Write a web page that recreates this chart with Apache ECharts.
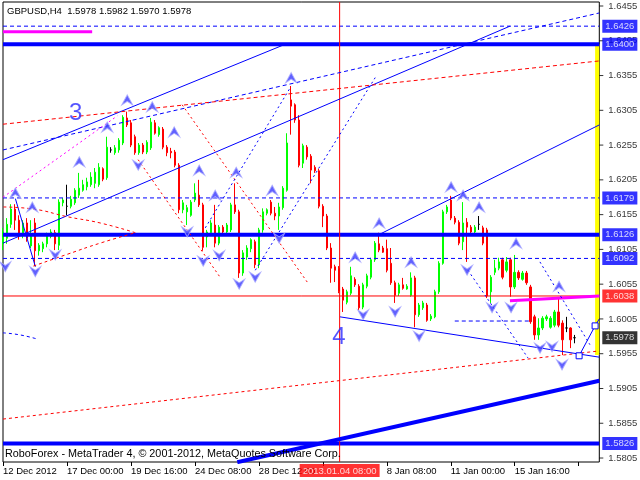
<!DOCTYPE html>
<html><head><meta charset="utf-8">
<script src="https://cdn.jsdelivr.net/npm/echarts@6/dist/echarts.min.js"></script>
<style>html,body{margin:0;padding:0;background:#fff}#c{width:640px;height:480px}</style>
</head><body><div id="c"></div>
<script>
// ---------- data ----------
const symbolText = 'GBPUSD,H4';
const lastOHLC = ['1.5978', '1.5982', '1.5970', '1.5978'];
const copyright = 'RoboForex - MetaTrader 4, \u00a9 2001-2012, MetaQuotes Software Corp.';
// candles: [open, close, low, high]
const candles = [
[1.6113,1.6130,1.6104,1.6136],[1.6121,1.6141,1.6113,1.6150],[1.6141,1.6163,1.6136,1.6170],[1.6163,1.6147,1.6133,1.6170],
[1.6147,1.6126,1.6119,1.6154],[1.6126,1.6143,1.6121,1.6147],[1.6143,1.6121,1.6116,1.6150],[1.6110,1.6126,1.6107,1.6147],
[1.6143,1.6103,1.6081,1.6150],[1.6103,1.6111,1.6096,1.6114],[1.6106,1.6113,1.6101,1.6116],[1.6113,1.6126,1.6108,1.6129],
[1.6124,1.6130,1.6121,1.6134],[1.6129,1.6113,1.6104,1.6133],[1.6111,1.6173,1.6104,1.6177],[1.6172,1.6176,1.6167,1.6179],
[1.6167,1.6167,1.6154,1.6198],[1.6167,1.6177,1.6164,1.6182],[1.6172,1.6190,1.6169,1.6193],[1.6183,1.6193,1.6179,1.6215],
[1.6190,1.6198,1.6188,1.6205],[1.6195,1.6202,1.6190,1.6208],[1.6198,1.6209,1.6195,1.6216],[1.6200,1.6216,1.6193,1.6222],
[1.6198,1.6223,1.6195,1.6229],[1.6221,1.6206,1.6203,1.6223],[1.6208,1.6252,1.6205,1.6267],[1.6248,1.6248,1.6244,1.6252],
[1.6244,1.6251,1.6241,1.6255],[1.6248,1.6262,1.6244,1.6265],[1.6258,1.6295,1.6255,1.6298],[1.6294,1.6284,1.6281,1.6303],
[1.6287,1.6255,1.6252,1.6291],[1.6267,1.6244,1.6241,1.6270],[1.6244,1.6255,1.6241,1.6258],[1.6255,1.6245,1.6242,1.6258],
[1.6245,1.6259,1.6242,1.6262],[1.6251,1.6288,1.6248,1.6294],[1.6287,1.6272,1.6270,1.6291],[1.6270,1.6280,1.6267,1.6282],
[1.6278,1.6252,1.6249,1.6281],[1.6252,1.6244,1.6239,1.6255],[1.6246,1.6244,1.6236,1.6251],[1.6245,1.6226,1.6223,1.6248],
[1.6226,1.6162,1.6157,1.6229],[1.6162,1.6172,1.6157,1.6176],[1.6159,1.6165,1.6140,1.6169],[1.6154,1.6173,1.6152,1.6176],
[1.6176,1.6186,1.6173,1.6200],[1.6183,1.6169,1.6166,1.6205],[1.6169,1.6108,1.6103,1.6172],[1.6123,1.6130,1.6108,1.6133],
[1.6129,1.6143,1.6126,1.6147],[1.6140,1.6114,1.6108,1.6169],[1.6114,1.6137,1.6111,1.6140],[1.6137,1.6130,1.6127,1.6140],
[1.6130,1.6140,1.6127,1.6143],[1.6133,1.6169,1.6130,1.6172],[1.6169,1.6159,1.6156,1.6200],[1.6159,1.6071,1.6064,1.6162],
[1.6071,1.6100,1.6067,1.6104],[1.6094,1.6107,1.6090,1.6111],[1.6106,1.6119,1.6101,1.6121],[1.6116,1.6083,1.6078,1.6119],
[1.6083,1.6133,1.6078,1.6136],[1.6133,1.6159,1.6129,1.6164],[1.6157,1.6162,1.6154,1.6164],[1.6173,1.6157,1.6154,1.6176],
[1.6157,1.6153,1.6147,1.6166],[1.6153,1.6166,1.6133,1.6172],[1.6165,1.6193,1.6162,1.6196],[1.6190,1.6258,1.6188,1.6272],
[1.6320,1.6311,1.6270,1.6340],[1.6313,1.6291,1.6287,1.6315],[1.6291,1.6226,1.6223,1.6298],[1.6229,1.6254,1.6222,1.6257],
[1.6252,1.6238,1.6234,1.6255],[1.6239,1.6219,1.6200,1.6242],[1.6223,1.6218,1.6215,1.6226],[1.6218,1.6167,1.6164,1.6221],
[1.6167,1.6153,1.6137,1.6170],[1.6153,1.6107,1.6104,1.6156],[1.6107,1.6078,1.6057,1.6114],[1.6080,1.6075,1.6058,1.6083],
[1.6078,1.6045,1.6042,1.6081],[1.6048,1.6032,1.6015,1.6051],[1.6029,1.6044,1.6026,1.6047],[1.6042,1.6067,1.6039,1.6080],
[1.6062,1.6054,1.6051,1.6065],[1.6052,1.6021,1.6018,1.6055],[1.6022,1.6054,1.6019,1.6057],[1.6052,1.6067,1.6049,1.6070],
[1.6065,1.6090,1.6062,1.6093],[1.6090,1.6114,1.6087,1.6117],[1.6113,1.6104,1.6101,1.6129],[1.6107,1.6101,1.6100,1.6110],
[1.6106,1.6075,1.6072,1.6119],[1.6085,1.6057,1.6054,1.6107],[1.6057,1.6039,1.6028,1.6060],[1.6042,1.6054,1.6038,1.6057],
[1.6054,1.6049,1.6047,1.6064],[1.6048,1.6052,1.6047,1.6055],[1.6039,1.6064,1.6037,1.6072],[1.6064,1.6011,1.5993,1.6067],
[1.6011,1.6025,1.6008,1.6028],[1.6021,1.6028,1.6018,1.6031],[1.6025,1.6003,1.6001,1.6028],[1.6005,1.6009,1.6002,1.6012],
[1.6008,1.6044,1.6006,1.6047],[1.6044,1.6085,1.6041,1.6088],[1.6085,1.6159,1.6083,1.6162],[1.6159,1.6166,1.6156,1.6169],
[1.6176,1.6150,1.6147,1.6182],[1.6150,1.6144,1.6141,1.6153],[1.6144,1.6114,1.6111,1.6147],[1.6116,1.6143,1.6104,1.6173],
[1.6144,1.6137,1.6087,1.6150],[1.6137,1.6130,1.6127,1.6140],[1.6130,1.6137,1.6127,1.6140],[1.6141,1.6141,1.6133,1.6153],
[1.6136,1.6114,1.6111,1.6139],[1.6133,1.6038,1.6035,1.6136],[1.6044,1.6065,1.6028,1.6068],[1.6072,1.6078,1.6068,1.6090],
[1.6078,1.6087,1.6075,1.6093],[1.6090,1.6065,1.6062,1.6093],[1.6075,1.6087,1.6072,1.6094],[1.6090,1.6051,1.6037,1.6093],
[1.6051,1.6072,1.6048,1.6097],[1.6072,1.6064,1.6061,1.6075],[1.6062,1.6071,1.6060,1.6074],[1.6071,1.6057,1.6054,1.6074],
[1.6051,1.6001,1.5998,1.6054],[1.6008,1.5982,1.5975,1.6011],[1.5982,1.5992,1.5975,1.6006],[1.5992,1.6006,1.5989,1.6009],
[1.6005,1.6008,1.6002,1.6011],[1.5993,1.6006,1.5991,1.6009],[1.5996,1.6015,1.5993,1.6018],[1.6015,1.5996,1.5993,1.6035],
[1.5999,1.5975,1.5953,1.6003],[1.5992,1.5992,1.5986,1.6008],[1.5992,1.5975,1.5963,1.5993],[1.5978,1.5978,1.5970,1.5982]
];
// time axis labels, one per 16 bars
const timeLabels = ['12 Dec 2012','17 Dec 00:00','19 Dec 16:00','24 Dec 08:00','28 Dec 12:00','','8 Jan 08:00','11 Jan 00:00','15 Jan 16:00',''];
const markedTime = '2013.01.04 08:00';
const markedBar = 84.2;
// price scale labels
const priceTicks = [1.6455,1.6405,1.6355,1.6305,1.6255,1.6205,1.6155,1.6105,1.6055,1.6005,1.5955,1.5905,1.5855,1.5805];
// horizontal levels
const dashedLevels = [1.6426, 1.6179, 1.6092];
const thickLevels = [1.6400, 1.6126, 1.5826];
const redLevel = 1.6038;
const bidPrice = 1.5978;
// trend lines [bar, price]
const channelUpper = [[0,1.6234],[70.6,1.6400]];
const channelLower = [[0,1.6114],[126.8,1.6426]];
const dashedBlueTrend = [[0,1.6248],[149.15,1.6445]];
const dashedRedTop = [[0,1.6285],[149.15,1.6376]];
const dashedRedBottom = [[0,1.5861],[149.15,1.5959]];
const thickTrend = [[58.6,1.5799],[149.15,1.5916]];
const wave4Line = [[84.3,1.6008],[149.15,1.5950]];
const upperRay = [[94.3,1.6127],[149.15,1.6284]];
const magentaTop = [[0,1.6418],[22.3,1.6418]];
const magentaRight = [[126.8,1.6031],[149.15,1.6038]];
const shortDashed = [[113,1.6002],[132.3,1.6002]];
const shortBlue = [[3.1,1.6178],[8.1,1.6080]];
const magentaDotted = [[0,1.6180],[28.6,1.6297]];
const redDot1 = [[44.8,1.6313],[76.1,1.6058]];
const redDot2 = [[33.8,1.6234],[54.3,1.6065]];
const blueDotA = [[50.6,1.6136],[71.8,1.6337]];
const blueDotB = [[63.1,1.6075],[93.1,1.6352]];
const blueDotD1 = [[116.3,1.6075],[131.3,1.5949]];
const blueDotD2 = [[134.3,1.6087],[146.8,1.5968]];
const arcUpper = [[0.1,1.6166],[7.6,1.6163],[16.1,1.6152],[24.3,1.6143],[33.1,1.6129]];
const arcLower = [[7.6,1.6081],[16.1,1.6098],[24.3,1.6114],[33.1,1.6129]];
const arcBlue = [[0,1.5985],[4.3,1.5982],[8.6,1.5976]];
const forecast = [[144.1,1.5952],[148.1,1.5995],[149.15,1.6005]];
const yellowZone = [148.1, 1.5953, 1.6400];
const upArrows = [[3.08,1.6186],[7.33,1.6166],[19.08,1.6231],[26.08,1.6281],[31.08,1.6320],[37.33,1.6310],[42.83,1.6274],
 [49.08,1.6219],[53.08,1.6183],[58.33,1.6216],[67.33,1.6190],[72.08,1.6352],[88.08,1.6094],[94.08,1.6143],[102.08,1.6087],
 [112.08,1.6195],[115.08,1.6183],[119.08,1.6166],[128.33,1.6114],[139.08,1.6052]];
const downArrows = [[0.58,1.6080],[8.08,1.6073],[13.08,1.6097],[33.83,1.6226],[46.08,1.6130],[50.08,1.6088],[54.08,1.6096],
 [59.08,1.6055],[63.08,1.6065],[69.08,1.6121],[90.08,1.6011],[98.08,1.6015],[104.08,1.5980],[116.08,1.6075],[122.33,1.6021],
 [127.08,1.6021],[134.33,1.5963],[137.33,1.5965],[139.83,1.5939]];
const waveLabels = [['3', 18.2, 1.6301], ['4', 84.0, 1.5979]];

// ---------- chart ----------
const X_MAX = 149.15, Y_MIN = 1.579927, Y_MAX = 1.646075;
const FONT = 'Liberation Sans';
const FS = 9.5;
const BLUE = '#0000ff';
function line(data, color, width, type, extra) {
  return Object.assign({type:'line', data, symbol:'none', silent:true, animation:false, z:3,
    lineStyle:{color, width, type: type || 'solid'}}, extra || {});
}
const series = [];
series.push({type:'candlestick', z:2, animation:false, silent:true,
  data: candles.map((c,i)=>[i, c[0], c[1], c[2], c[3]]), encode:{x:0, y:[1,2,3,4]},
  barWidth: 2,
  itemStyle:{color:'#00ff00', color0:'#ff0000', borderColor:'#00ff00', borderColor0:'#ff0000', borderColorDoji:'#000000', borderWidth:1},
  markArea:{silent:true, itemStyle:{color:'#ffff00'}, data:[[{coord:[yellowZone[0], yellowZone[1]]},{coord:[X_MAX, yellowZone[2]]}]]}
});
dashedLevels.forEach(p => series.push(line([[0,p],[X_MAX,p]], BLUE, 1, [4,3])));
thickLevels.forEach(p => series.push(line([[0,p],[X_MAX,p]], BLUE, 4)));
series.push(line([[0,redLevel],[X_MAX,redLevel]], '#ff0000', 1));
series.push(line([[markedBar,Y_MIN],[markedBar,Y_MAX]], '#ff0000', 1));
series.push(line(channelUpper, BLUE, 1));
series.push(line(channelLower, BLUE, 1));
series.push(line(dashedBlueTrend, BLUE, 1, [4,3]));
series.push(line(dashedRedTop, '#ff0000', 1, [4,3]));
series.push(line(dashedRedBottom, '#ff0000', 1, [3,3]));
series.push(line(thickTrend, BLUE, 4));
series.push(line(wave4Line, BLUE, 1));
series.push(line(upperRay, BLUE, 1));
series.push(line(magentaTop, '#ff00ff', 3));
series.push(line(magentaRight, '#ff00ff', 3));
series.push(line(shortDashed, BLUE, 1, [4,3]));
series.push(line(shortBlue, BLUE, 1));
series.push(line(magentaDotted, '#ff00ff', 1, [2,3]));
series.push(line(redDot1, '#ff0000', 1, [2,3]));
series.push(line(redDot2, '#ff0000', 1, [2,3]));
series.push(line(blueDotA, BLUE, 1, [2,3]));
series.push(line(blueDotB, BLUE, 1, [2,3]));
series.push(line(blueDotD1, BLUE, 1, [2,3]));
series.push(line(blueDotD2, BLUE, 1, [2,3]));
series.push(line(arcUpper, '#ff0000', 1, [3,3], {smooth:true}));
series.push(line(arcLower, '#ff0000', 1, [3,3], {smooth:true}));
series.push(line(arcBlue, BLUE, 1, [3,3], {smooth:true}));
series.push(line(forecast.map((d,i)=> i < 2 ? {value:d, symbol:'rect'} : {value:d, symbol:'none'}), BLUE, 1, 'solid',
  {symbol:'rect', symbolSize:6, showSymbol:true, itemStyle:{color:'#ffffff', borderColor:BLUE, borderWidth:1}}));
// arrows
const upPath = 'path://M6,0L12,11L6,7L0,11Z';
const downPath = 'path://M0,0L6,4L12,0L6,11Z';
series.push({type:'scatter', silent:true, animation:false, z:4, data: upArrows, symbol: upPath, symbolSize:[11,10],
  itemStyle:{color:'#3a3aff', borderColor:'#a8a8ff', borderWidth:1}});
series.push({type:'scatter', silent:true, animation:false, z:4, data: downArrows, symbol: downPath, symbolSize:[11,10],
  itemStyle:{color:'#3a3aff', borderColor:'#a8a8ff', borderWidth:1}});
// wave labels
series.push({type:'scatter', silent:true, animation:false, z:4, symbolSize:0,
  data: waveLabels.map(w => ({value:[w[1], w[2]], name:w[0]})),
  label:{show:true, position:'inside', formatter: p => p.name, color:'#2a2aff', fontSize:24, fontFamily:FONT}});
// price scale tick labels
series.push({type:'scatter', silent:true, animation:false, z:5, clip:false,
  data: priceTicks.map(p => [X_MAX, p]), symbol:'rect', symbolSize:[4,1], symbolOffset:[2,0],
  itemStyle:{color:'#000'},
  label:{show:true, position:'right', distance:5, formatter: p => p.value[1].toFixed(4), color:'#000', fontSize:FS, fontFamily:FONT}});
// level boxes
const boxes = [];
dashedLevels.concat(thickLevels).forEach(p => boxes.push({value:[X_MAX,p], bg:BLUE, fg:'#fff'}));
boxes.push({value:[X_MAX, redLevel], bg:'#ff0000', fg:'#fff'});
boxes.push({value:[X_MAX, bidPrice], bg:'#000000', fg:'#fff'});
series.push({type:'scatter', silent:true, animation:false, z:6, clip:false, symbolSize:0,
  data: boxes.map(b => ({value:b.value, label:{backgroundColor:b.bg, color:b.fg}})),
  label:{show:true, position:'right', distance:3, padding:[2,3,1,3], formatter: p => p.value[1].toFixed(4), fontSize:FS, fontFamily:FONT}});
// marked time box
series.push({type:'scatter', silent:true, animation:false, z:6, clip:false, symbolSize:0,
  data:[[markedBar, Y_MIN]],
  label:{show:true, position:'bottom', distance:2, padding:[2,3,1,3], formatter: markedTime, backgroundColor:'#ff0000', color:'#fff', fontSize:FS, fontFamily:FONT}});

const option = {
  animation:false,
  backgroundColor:'#ffffff',
  title:[
    {text: symbolText + '  ' + lastOHLC.join(' '), left:7, top:6, padding:0, textStyle:{fontSize:FS, fontWeight:'normal', color:'#000', fontFamily:FONT}},
    {text: copyright, left:5, top:449, padding:0, textStyle:{fontSize:10.8, fontWeight:'normal', color:'#000', fontFamily:FONT}}
  ],
  grid:{left:2.7, right:40.7, top:2, bottom:18, show:true, borderColor:'#000', borderWidth:1, backgroundColor:'#fff'},
  xAxis:{type:'value', min:0, max:X_MAX, interval:16,
    axisLine:{show:false}, splitLine:{show:false},
    axisTick:{show:true, length:4, lineStyle:{color:'#000'}},
    axisLabel:{showMaxLabel:false, align:'left', margin:4, color:'#000', fontSize:FS, fontFamily:FONT,
      formatter: v => timeLabels[Math.round(v/16)] || ''}},
  yAxis:{type:'value', position:'right', min:Y_MIN, max:Y_MAX, scale:true,
    axisLine:{show:false}, axisTick:{show:false}, axisLabel:{show:false}, splitLine:{show:false}},
  series
};
const chart = echarts.init(document.getElementById('c'), null, {renderer:'canvas'});
chart.setOption(option);
</script></body></html>
